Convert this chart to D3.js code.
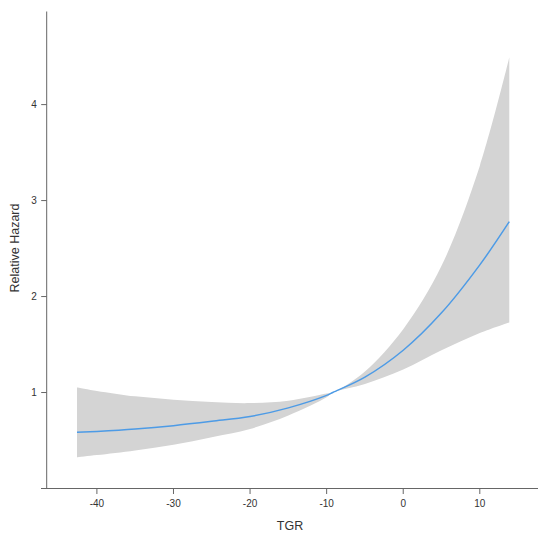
<!DOCTYPE html>
<html>
<head>
<meta charset="utf-8">
<script src="https://cdn.jsdelivr.net/npm/d3@7"></script>
<style>
  body { margin: 0; background: #fff; }
  text { font-family: "Liberation Sans", Arial, sans-serif; fill: #333; }
</style>
</head>
<body>
<div id="chart"></div>
<script>
// TGR values and estimated relative hazard with 95% band
const tgr = [-42.6, -40, -35, -30, -25, -20, -15, -10, -9.2, -5, 0, 5, 10, 13.85];
const hazard = [0.585, 0.595, 0.62, 0.655, 0.70, 0.75, 0.84, 0.97, 1.0, 1.16, 1.44, 1.83, 2.33, 2.78];
const upper = [1.053, 1.017, 0.96, 0.925, 0.90, 0.89, 0.915, 0.99, 1.0, 1.22, 1.66, 2.32, 3.36, 4.49];
const lower = [0.325, 0.348, 0.397, 0.455, 0.534, 0.62, 0.76, 0.95, 1.0, 1.09, 1.24, 1.44, 1.62, 1.73];

const xTicks = [-40, -30, -20, -10, 0, 10];
const yTicks = [1, 2, 3, 4];

const width = 550, height = 536;

const x = d3.scaleLinear().domain([-47.3, 17.6]).range([41, 538]);
const y = d3.scaleLinear().domain([0, 4.97]).range([488.5, 11.5]);

const svg = d3.select("#chart").append("svg")
  .attr("width", width)
  .attr("height", height);

const pts = tgr.map((t, i) => ({ t: t, h: hazard[i], lo: lower[i], hi: upper[i] }));

const area = d3.area()
  .x(d => x(d.t))
  .y0(d => y(d.lo))
  .y1(d => y(d.hi))
  .curve(d3.curveCatmullRom.alpha(0.5));

svg.append("path")
  .datum(pts)
  .attr("d", area)
  .attr("fill", "#d4d4d4");

const line = d3.line()
  .x(d => x(d.t))
  .y(d => y(d.h))
  .curve(d3.curveCatmullRom.alpha(0.5));

svg.append("path")
  .datum(pts)
  .attr("d", line)
  .attr("fill", "none")
  .attr("stroke", "#4d9be6")
  .attr("stroke-width", 1.5);

// axes drawn by hand to mimic the base R look
const axisColor = "#666";
const x0 = x(-47.3) + 5.7; // y axis position
svg.append("line")
  .attr("x1", x0).attr("x2", x0)
  .attr("y1", y(4.97)).attr("y2", y(0))
  .attr("stroke", axisColor);
svg.append("line")
  .attr("x1", x(-47.3)).attr("x2", x(17.6))
  .attr("y1", y(0)).attr("y2", y(0))
  .attr("stroke", axisColor);

const yt = svg.append("g");
yt.selectAll("line").data(yTicks).join("line")
  .attr("x1", x0 - 5.5).attr("x2", x0)
  .attr("y1", d => y(d)).attr("y2", d => y(d))
  .attr("stroke", axisColor);
yt.selectAll("text").data(yTicks).join("text")
  .attr("x", x0 - 10)
  .attr("y", d => y(d) + 3.5)
  .attr("text-anchor", "end")
  .attr("font-size", 10)
  .text(d => d);

const xt = svg.append("g");
xt.selectAll("line").data(xTicks).join("line")
  .attr("x1", d => x(d)).attr("x2", d => x(d))
  .attr("y1", y(0)).attr("y2", y(0) + 5.5)
  .attr("stroke", axisColor);
xt.selectAll("text").data(xTicks).join("text")
  .attr("x", d => x(d))
  .attr("y", y(0) + 18)
  .attr("text-anchor", "middle")
  .attr("font-size", 10)
  .text(d => d);

svg.append("text")
  .attr("x", 290)
  .attr("y", 530)
  .attr("text-anchor", "middle")
  .attr("font-size", 12.5)
  .text("TGR");

svg.append("text")
  .attr("transform", "translate(19,248) rotate(-90)")
  .attr("text-anchor", "middle")
  .attr("font-size", 12.5)
  .text("Relative Hazard");
</script>
</body>
</html>
